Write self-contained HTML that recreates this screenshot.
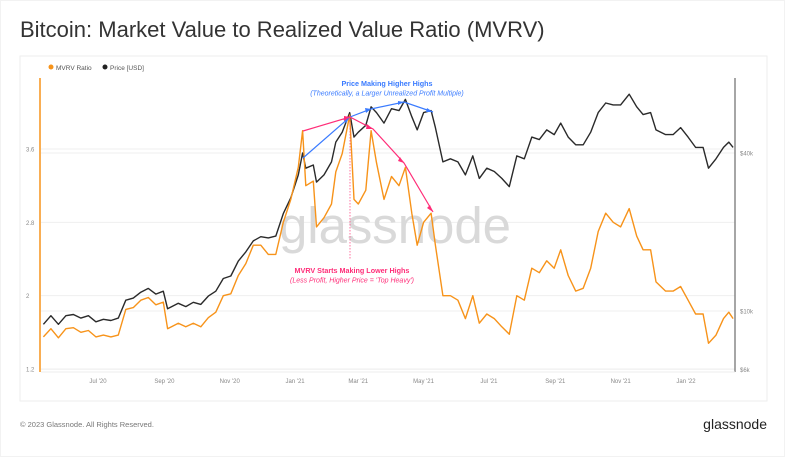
<!DOCTYPE html>
<html><head><meta charset="utf-8"><style>
html,body{margin:0;padding:0;background:#fff;}
body{width:785px;height:457px;overflow:hidden;font-family:"Liberation Sans",sans-serif;}
</style></head><body>
<svg width="785" height="457" viewBox="0 0 785 457" xmlns="http://www.w3.org/2000/svg">
<rect x="0.5" y="0.5" width="784" height="456" fill="#fff" stroke="#f2f2f2"/>
<text x="20" y="37" font-size="22" fill="#333">Bitcoin: Market Value to Realized Value Ratio (MVRV)</text>
<rect x="20" y="56" width="747" height="345" fill="#fff" stroke="#eee"/>
<g>
<circle cx="51" cy="67" r="2.5" fill="#f7931a"/>
<text x="56" y="70" font-size="6.5" fill="#555">MVRV Ratio</text>
<circle cx="105" cy="67" r="2.5" fill="#222"/>
<text x="110" y="70" font-size="6.5" fill="#555">Price [USD]</text>
</g>
<g id="grid"></g>
<text x="279" y="243" font-size="51" fill="#d9d9d9" textLength="232">glassnode</text>
<g id="axes"></g>
<g id="series"></g>
<g>
<line x1="350" y1="116" x2="350" y2="260" stroke="#ff4d88" stroke-width="0.8" stroke-dasharray="1.5,1.5"/>
<polyline points="303,158 350,117 371,109 404,102 433,112" fill="none" stroke="#3a7bff" stroke-width="1.2"/>
<g fill="#3a7bff">
<polygon points="350,117 343,119 346,123"/><polygon points="371,109 365,108 366,113"/><polygon points="404,102 398,101 398,105"/><polygon points="433,112 427,108 426,112"/>
</g>
<polyline points="303,131 350,117 373,129 404,163 433,212" fill="none" stroke="#ff2d78" stroke-width="1.2"/>
<g fill="#ff2d78">
<polygon points="350,117 344,116 344,121"/><polygon points="373,129 367,124 366,129"/><polygon points="404,163 400,157 398,161"/><polygon points="433,212 430,205 427,208"/>
</g>
<text x="387" y="86" text-anchor="middle" font-size="7.2" font-weight="bold" fill="#3a7bff">Price Making Higher Highs</text>
<text x="387" y="95.5" text-anchor="middle" font-size="7" font-style="italic" fill="#3a7bff">(Theoretically, a Larger Unrealized Profit Multiple)</text>
<text x="352" y="273" text-anchor="middle" font-size="7.2" font-weight="bold" fill="#ff2d78">MVRV Starts Making Lower Highs</text>
<text x="352" y="282.5" text-anchor="middle" font-size="7" font-style="italic" fill="#ff2d78">(Less Profit, Higher Price = 'Top Heavy')</text>
</g>
<text x="20" y="427" font-size="7.5" fill="#777">© 2023 Glassnode. All Rights Reserved.</text>
<text x="767" y="429" text-anchor="end" font-size="14" fill="#222">glassnode</text>
</svg>
<script>
const dates=["2020-05-11","2020-05-18","2020-05-25","2020-06-01","2020-06-08","2020-06-15","2020-06-22","2020-06-29","2020-07-06","2020-07-13","2020-07-20","2020-07-27","2020-08-03","2020-08-10","2020-08-17","2020-08-24","2020-08-31","2020-09-04","2020-09-14","2020-09-21","2020-09-28","2020-10-05","2020-10-12","2020-10-19","2020-10-26","2020-11-02","2020-11-09","2020-11-16","2020-11-23","2020-11-30","2020-12-07","2020-12-14","2020-12-21","2020-12-28","2021-01-04","2021-01-08","2021-01-11","2021-01-18","2021-01-21","2021-01-28","2021-02-04","2021-02-08","2021-02-14","2021-02-21","2021-02-25","2021-03-01","2021-03-08","2021-03-13","2021-03-18","2021-03-25","2021-04-01","2021-04-08","2021-04-14","2021-04-20","2021-04-25","2021-05-01","2021-05-08","2021-05-12","2021-05-19","2021-05-26","2021-06-02","2021-06-09","2021-06-16","2021-06-22","2021-06-29","2021-07-06","2021-07-13","2021-07-20","2021-07-27","2021-08-03","2021-08-10","2021-08-17","2021-08-24","2021-08-31","2021-09-06","2021-09-13","2021-09-20","2021-09-27","2021-10-04","2021-10-11","2021-10-18","2021-10-25","2021-11-01","2021-11-09","2021-11-16","2021-11-22","2021-11-29","2021-12-04","2021-12-13","2021-12-20","2021-12-27","2022-01-03","2022-01-10","2022-01-17","2022-01-22","2022-01-29","2022-02-05","2022-02-10","2022-02-14"];
const priceK=[8.9,9.6,8.9,9.6,9.7,9.4,9.6,9.1,9.3,9.2,9.4,11.0,11.2,11.8,12.2,11.6,11.9,10.2,10.7,10.4,10.8,10.6,11.4,11.9,13.3,13.6,15.5,16.8,18.5,19.2,19.0,19.3,23.5,27,33,40,35,36,31,33,37,44,48,57,46,48,51,60,57,52,59,58,64,55,49,57,58,50,37,38,37,33,39,32,35,34,32,29.8,39,38,46,45,49,47,52,46,43,43,48,57,62,61,61,67,60,56,57,49,47,47,50,46,42,42,35,38,42,44,42];
const mvrv=[1.55,1.64,1.54,1.64,1.65,1.60,1.62,1.55,1.57,1.55,1.57,1.85,1.87,1.95,1.98,1.90,1.93,1.64,1.70,1.66,1.70,1.66,1.76,1.82,2.0,2.02,2.22,2.35,2.55,2.55,2.45,2.45,2.8,3.05,3.4,3.8,3.2,3.25,2.75,2.85,3.0,3.35,3.55,3.97,3.05,3.0,3.15,3.8,3.45,3.05,3.3,3.2,3.4,2.9,2.55,2.8,2.9,2.55,2.0,2.0,1.95,1.75,2.0,1.7,1.8,1.75,1.66,1.58,2.0,1.95,2.3,2.25,2.38,2.3,2.5,2.22,2.05,2.08,2.3,2.7,2.9,2.8,2.75,2.95,2.65,2.5,2.5,2.15,2.05,2.05,2.1,1.95,1.8,1.8,1.48,1.57,1.75,1.82,1.75];
const leftTicks=[1.2,2,2.8,3.6];
const rightTicks=[6000,10000,40000];
const rightTickLabels=["$6k","$10k","$40k"];
const xTickDates=["2020-07-01","2020-09-01","2020-11-01","2021-01-01","2021-03-01","2021-05-01","2021-07-01","2021-09-01","2021-11-01","2022-01-01"];
const xTickLabels=["Jul '20","Sep '20","Nov '20","Jan '21","Mar '21","May '21","Jul '21","Sep '21","Nov '21","Jan '22"];

const NS="http://www.w3.org/2000/svg";
const t0=Date.UTC(2020,6,1);
function xS(d){const p=d.split("-");const t=Date.UTC(+p[0],+p[1]-1,+p[2]);return 98+(t-t0)/86400000*1.071;}
function yL(v){return 369-(v-1.2)*91.67;}
function yR(p){return 153+(Math.log(40000)-Math.log(p))*114;}
function mk(tag,attrs,parent){const e=document.createElementNS(NS,tag);for(const k in attrs)e.setAttribute(k,attrs[k]);parent.appendChild(e);return e;}
const grid=document.getElementById("grid"),axes=document.getElementById("axes"),series=document.getElementById("series");
leftTicks.forEach(v=>{
 const l=mk("line",{x1:41,x2:735,y1:yL(v),y2:yL(v),stroke:"#efefef","stroke-width":1},grid);
 
 
 const t=mk("text",{x:26,y:yL(v)+2.5,"font-size":6,fill:"#888"},axes);t.textContent=v;
 
 
});
rightTicks.forEach((v,i)=>{
 const l=mk("line",{x1:41,x2:735,y1:yR(v),y2:yR(v),stroke:"#efefef","stroke-width":1},grid);
 
 
 const t=mk("text",{x:740,y:yR(v)+2.5,"font-size":6,fill:"#888"},axes);t.textContent=rightTickLabels[i];
 
 
});
xTickDates.forEach((d,i)=>{
 const t=mk("text",{x:xS(d),y:383,"font-size":6,fill:"#888","text-anchor":"middle"},axes);t.textContent=xTickLabels[i];
 
 
});
const la=mk("line",{x1:40,x2:40,y1:78,y2:372,stroke:"#f7931a","stroke-width":1.5},axes);


const ra=mk("line",{x1:735,x2:735,y1:78,y2:372,stroke:"#888","stroke-width":1.5},axes);


const ba=mk("line",{x1:41,x2:735,y1:372,y2:372,stroke:"#eee","stroke-width":1},axes);


const pp=mk("polyline",{points:dates.map((d,i)=>xS(d).toFixed(1)+","+yR(priceK[i]*1000).toFixed(1)).join(" "),fill:"none",stroke:"#2a2a2a","stroke-width":1.4,"stroke-linejoin":"round"},series);


const mp=mk("polyline",{points:dates.map((d,i)=>xS(d).toFixed(1)+","+yL(mvrv[i]).toFixed(1)).join(" "),fill:"none",stroke:"#f7931a","stroke-width":1.4,"stroke-linejoin":"round"},series);


</script>
</body></html>
